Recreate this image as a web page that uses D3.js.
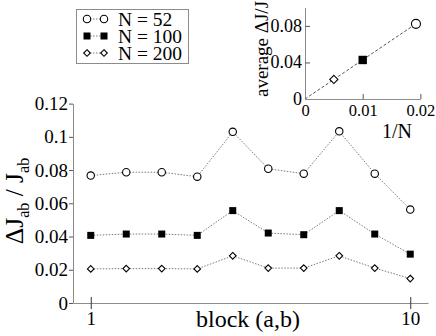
<!DOCTYPE html>
<html>
<head>
<meta charset="utf-8">
<script src="https://cdn.jsdelivr.net/npm/d3@7"></script>
<style>
  body { margin: 0; background: #fff; }
</style>
</head>
<body>
<div id="chart"></div>
<script>
// data
var blocks = [1, 2, 3, 4, 5, 6, 7, 8, 9, 10];
var n52 = [0.0767, 0.0787, 0.0787, 0.0760, 0.1030, 0.0808, 0.0778, 0.1033, 0.0778, 0.0562];
var n100 = [0.0407, 0.0415, 0.0415, 0.0407, 0.0556, 0.0421, 0.0411, 0.0556, 0.0415, 0.0294];
var n200 = [0.0205, 0.0207, 0.0207, 0.0205, 0.0284, 0.0210, 0.0210, 0.0284, 0.0210, 0.0147];
var seriesNames = ["N = 52", "N = 100", "N = 200"];
var seriesShapes = ["circle", "square", "diamond"];

var mainYTicks = [0, 0.02, 0.04, 0.06, 0.08, 0.1, 0.12];
var mainXTicks = [1, 10];

// inset: average vs 1/N
var invN = [1 / 52, 1 / 100, 1 / 200];
var avgDJ = [0.0822, 0.0427, 0.0214];
var fitX = [0, 0.0192];
var fitY = [0, 0.0822];
var insetXTicks = [0, 0.01, 0.02];
var insetYTicks = [0, 0.04, 0.08];

var serif = "Liberation Serif";

var svgWidth = 436, svgHeight = 336;
var svg = d3.select("#chart").append("svg")
  .attr("width", svgWidth)
  .attr("height", svgHeight)
  .attr("font-family", serif);

var axisGrey = "#8c8c8c";
var fmt = function(d) { return d === 0 ? "0" : String(+d.toFixed(2)); };

// marker drawing helper
function marker(g, shape, x, y, s) {
  if (shape === "circle") {
    g.append("circle").attr("cx", x).attr("cy", y).attr("r", s)
      .attr("fill", "#fff").attr("stroke", "#000").attr("stroke-width", 1.1);
  } else if (shape === "square") {
    g.append("rect").attr("x", x - s).attr("y", y - s)
      .attr("width", 2 * s).attr("height", 2 * s).attr("fill", "#000");
  } else {
    var d = s * 0.95;
    g.append("path")
      .attr("d", `M${x},${y - d}L${x + d},${y}L${x},${y + d}L${x - d},${y}Z`)
      .attr("fill", "#fff").attr("stroke", "#000").attr("stroke-width", 1.1);
  }
}

// ---------- main chart ----------
var x = d3.scaleLinear().domain([0.5, 10.5]).range([73, 428]);
var y = d3.scaleLinear().domain([0, 0.12]).range([303, 103.6]);

var main = svg.append("g");

var yAxis = main.append("g")
  .attr("transform", `translate(${x(0.5)},0)`)
  .call(d3.axisLeft(y).tickValues(mainYTicks).tickFormat(fmt).tickSize(4).tickSizeOuter(0))
  .attr("font-family", serif);
yAxis.select(".domain").attr("stroke", axisGrey);
yAxis.selectAll(".tick line").attr("stroke", "#555");
yAxis.selectAll("text").attr("font-size", 19).attr("x", -5);

var xAxis = main.append("g")
  .attr("transform", `translate(0,${y(0)})`)
  .call(d3.axisBottom(x).tickValues(mainXTicks).tickSize(6).tickSizeOuter(0))
  .attr("font-family", serif);
xAxis.select(".domain").attr("stroke", axisGrey);
xAxis.selectAll(".tick line").attr("y1", -6).attr("y2", 6).attr("stroke", "#333");
xAxis.selectAll("text").attr("font-size", 19).attr("y", 9);

var line = d3.line()
  .x(function(d, i) { return x(blocks[i]); })
  .y(function(d) { return y(d); });

var allSeries = [n52, n100, n200];
var markerSize = [3.7, 3.5, 3.5];
allSeries.forEach(function(vals, k) {
  main.append("path")
    .datum(vals)
    .attr("d", line)
    .attr("fill", "none")
    .attr("stroke", "#7a7a7a")
    .attr("stroke-width", 1)
    .attr("stroke-dasharray", "1.5,1.5");
  var mg = main.append("g");
  vals.forEach(function(v, i) {
    marker(mg, seriesShapes[k], x(blocks[i]), y(v), markerSize[k]);
  });
});

main.append("text")
  .attr("x", 248).attr("y", 327)
  .attr("text-anchor", "middle")
  .attr("font-size", 24)
  .text("block (a,b)");

var yLab = main.append("text")
  .attr("transform", "translate(23,201) rotate(-90)")
  .attr("text-anchor", "middle")
  .attr("font-size", 25.5);
yLab.append("tspan").text("ΔJ");
yLab.append("tspan").attr("font-size", 16).attr("dy", 6).text("ab");
yLab.append("tspan").attr("dy", -6).text(" / J");
yLab.append("tspan").attr("font-size", 16).attr("dy", 6).text("ab");

// ---------- legend ----------
var legend = svg.append("g");
legend.append("rect")
  .attr("x", 76.5).attr("y", 9.5).attr("width", 112).attr("height", 54)
  .attr("fill", "#fff").attr("stroke", axisGrey).attr("stroke-width", 1);
seriesNames.forEach(function(name, k) {
  var ry = 19 + k * 17;
  legend.append("line")
    .attr("x1", 87).attr("x2", 104).attr("y1", ry).attr("y2", ry)
    .attr("stroke", "#7a7a7a").attr("stroke-dasharray", "1.5,1.5");
  marker(legend, seriesShapes[k], 87, ry, markerSize[k]);
  marker(legend, seriesShapes[k], 104, ry, markerSize[k]);
  legend.append("text")
    .attr("x", 118).attr("y", ry + 6.5)
    .attr("font-size", 19.5)
    .text(name);
});

// ---------- inset ----------
var ix = d3.scaleLinear().domain([0, 0.02]).range([305, 420.4]);
var iy = d3.scaleLinear().domain([0, 0.1]).range([99, 7.6]);
var inset = svg.append("g");

var ixAxis = inset.append("g")
  .attr("transform", `translate(0,${iy(0)})`)
  .call(d3.axisTop(ix).tickValues(insetXTicks).tickFormat(fmt).tickSize(5).tickSizeOuter(0))
  .attr("font-family", serif);
ixAxis.select(".domain").attr("stroke", axisGrey);
ixAxis.selectAll(".tick line").attr("stroke", "#555")
  .attr("display", function(d) { return d === 0 ? "none" : null; });
ixAxis.selectAll("text").attr("font-size", 16.5).attr("y", 17);

var iyAxis = inset.append("g")
  .attr("transform", `translate(${ix(0)},0)`)
  .call(d3.axisRight(iy).tickValues(insetYTicks).tickFormat(fmt).tickSize(5).tickSizeOuter(0))
  .attr("font-family", serif);
iyAxis.select(".domain").attr("stroke", axisGrey);
iyAxis.selectAll(".tick line").attr("stroke", "#555")
  .attr("display", function(d) { return d === 0 ? "none" : null; });
iyAxis.selectAll("text").attr("font-size", 18).attr("x", -3)
  .attr("text-anchor", "end").attr("dy", "0.3em");

inset.append("path")
  .datum(fitX.map(function(v, i) { return [v, fitY[i]]; }))
  .attr("d", d3.line().x(function(d) { return ix(d[0]); }).y(function(d) { return iy(d[1]); }))
  .attr("fill", "none")
  .attr("stroke", "#555")
  .attr("stroke-width", 1)
  .attr("stroke-dasharray", "3,2");

var insetSize = [4.5, 4.2, 4.3];
invN.forEach(function(v, k) {
  marker(inset, seriesShapes[k], ix(v), iy(avgDJ[k]), insetSize[k]);
});

inset.append("text")
  .attr("x", 397).attr("y", 138)
  .attr("text-anchor", "middle")
  .attr("font-size", 20)
  .text("1/N");

inset.append("text")
  .attr("transform", "translate(268,49) rotate(-90)")
  .attr("text-anchor", "middle")
  .attr("font-size", 19)
  .text("average ΔJ/J");
</script>
</body>
</html>
